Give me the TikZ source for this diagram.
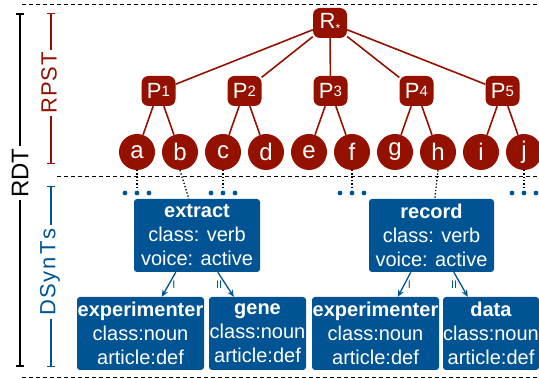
\documentclass[tikz,border=0pt]{standalone}
\usepackage{fontspec}
\setmainfont{Liberation Sans}
\usetikzlibrary{arrows.meta}
\definecolor{rpred}{HTML}{941100}
\definecolor{dsblue}{HTML}{005493}
\newcommand{\psub}[1]{\raisebox{2.5pt}{\fontsize{15}{15}\selectfont #1}}
\begin{document}
\begin{tikzpicture}[x=1pt,y=-1pt,
  pnode/.style={fill=rpred, text=white, rounded corners=7pt, minimum width=34pt, minimum height=30pt, inner sep=0pt, font=\fontsize{22}{22}\selectfont},
  leaf/.style={circle, fill=rpred, text=white, minimum size=36pt, inner sep=0pt, font=\fontsize{24}{24}\selectfont},
  tedge/.style={draw=rpred, line width=1.6pt},
  dbox/.style={fill=dsblue, text=white, rounded corners=3pt, minimum height=73pt, inner sep=0pt, align=center, font=\fontsize{20}{24}\selectfont},
  bdot/.style={circle, fill=dsblue, minimum size=4.8pt, inner sep=0pt},
  link/.style={line width=1.3pt, dash pattern=on 1.3pt off 2pt},
  sep/.style={line width=0.8pt, dash pattern=on 4pt off 3pt},
  arr/.style={draw=dsblue, line width=1.3pt, -{Stealth[length=7pt,width=6pt]}},
  rel/.style={text=dsblue, font=\fontsize{11}{11}\selectfont, inner sep=0pt},
  side/.style={rotate=90, inner sep=2.5pt}
]
\useasboundingbox (0,0) rectangle (539,379);

% separators
\coordinate (t0) at (22,4); \coordinate (t1) at (539,4);
\coordinate (m0) at (57,176); \coordinate (m1) at (539,176);
\coordinate (b0) at (22,377); \coordinate (b1) at (539,377);
\draw[sep] (t0) -- (t1);
\draw[sep] (m0) -- (m1);
\draw[sep] (b0) -- (b1);

% side bars
\node[side, font=\fontsize{24}{24}\selectfont] (rdt) at (20,173) {RDT};
\coordinate (rdttop) at (20,13); \coordinate (rdtbot) at (20,367);
\draw[line width=1.6pt, {Bar[width=8pt]}-] (rdttop) -- (rdt.east);
\draw[line width=1.6pt, -{Bar[width=8pt]}] (rdt.west) -- (rdtbot);

\node[side, text=rpred, font=\fontsize{22}{22}\selectfont] (rpst) at (49,83) {R\kern0.8pt P\kern0.8pt S\kern0.8pt T};
\coordinate (rpsttop) at (51,13); \coordinate (rpstbot) at (51,164);
\draw[rpred, line width=1.4pt, {Bar[width=8pt]}-] (rpsttop) -- (rpst.east -| rpsttop);
\draw[rpred, line width=1.4pt, -{Bar[width=8pt]}] (rpst.west -| rpsttop) -- (rpstbot);

\node[side, text=dsblue, font=\fontsize{22}{22}\selectfont] (dsy) at (50,272) {D\kern1.5pt S\kern1.5pt y\kern1.5pt n\kern3.5pt T\kern1.5pt s};
\coordinate (dsytop) at (51,186); \coordinate (dsybot) at (51,367);
\draw[dsblue, line width=1.4pt, {Bar[width=8pt]}-] (dsytop) -- (dsy.east -| dsytop);
\draw[dsblue, line width=1.4pt, -{Bar[width=8pt]}] (dsy.west -| dsytop) -- (dsybot);

% RPST tree
\node[pnode] (R) at (330,23) {R\raisebox{-3.5pt}{\fontsize{12}{12}\selectfont *}};
\node[pnode] (P1) at (158.5,91) {P\psub{1}};
\node[pnode] (P2) at (244.5,91) {P\psub{2}};
\node[pnode] (P3) at (330.5,91) {P\psub{3}};
\node[pnode] (P4) at (416.5,91) {P\psub{4}};
\node[pnode] (P5) at (502.5,91) {P\psub{5}};

\node[leaf] (a) at (137,152) {a};
\node[leaf] (b) at (180,152) {b};
\node[leaf] (c) at (223,152) {c};
\node[leaf] (d) at (266,152) {d};
\node[leaf] (e) at (309,152) {e};
\node[leaf] (f) at (352,152) {f};
\node[leaf] (g) at (395,152) {g};
\node[leaf] (h) at (438,152) {h};
\node[leaf] (i) at (481,152) {i};
\node[leaf] (j) at (524,152) {j};

\foreach \p in {P1,P2,P3,P4,P5} \draw[tedge] (R) -- (\p);
\draw[tedge] (P1) -- (a); \draw[tedge] (P1) -- (b);
\draw[tedge] (P2) -- (c); \draw[tedge] (P2) -- (d);
\draw[tedge] (P3) -- (e); \draw[tedge] (P3) -- (f);
\draw[tedge] (P4) -- (g); \draw[tedge] (P4) -- (h);
\draw[tedge] (P5) -- (i); \draw[tedge] (P5) -- (j);

% DSynT boxes
\node[dbox, minimum width=126pt] (extract) at (197,235.5) {\textbf{extract}\\class: verb\\voice: active};
\node[dbox, minimum width=125pt] (record) at (431.5,235.5) {\textbf{record}\\class: verb\\voice: active};
\node[dbox, minimum width=127pt] (exp1) at (140.5,333.5) {\textbf{experimenter}\\class:noun\\article:def};
\node[dbox, minimum width=97pt] (gene) at (257.5,333.5) {\textbf{gene}\\class:noun\\article:def};
\node[dbox, minimum width=127pt] (exp2) at (375.5,333.5) {\textbf{experimenter}\\class:noun\\article:def};
\node[dbox, minimum width=96pt] (data) at (491,333.5) {\textbf{data}\\class:noun\\article:def};

% ellipsis dots and dotted links
\foreach \n/\x in {a/137,c/223,f/352,j/524}{
  \node[bdot] (\n L) at ({\x-12},193) {};
  \node[bdot] (\n M) at (\x,193) {};
  \node[bdot] (\n R) at ({\x+12},193) {};
  \coordinate (\n E) at (\x,189);
  \draw[link] (\n.south) -- (\n E);
}
\draw[link] (b.south) -- ([xshift=55pt]extract.north west);
\draw[link] (h.south) -- ([xshift=66pt]record.north west);

% dependency arrows
\draw[arr] ([xshift=42pt]extract.south west) -- ([xshift=85pt]exp1.north west) node[rel, pos=0.5, right=3pt] {I};
\draw[arr] ([xshift=84pt]extract.south west) -- ([xshift=25pt]gene.north west) node[rel, pos=0.5, left=3pt] {II};
\draw[arr] ([xshift=42pt]record.south west) -- ([xshift=86pt]exp2.north west) node[rel, pos=0.5, right=3pt] {I};
\draw[arr] ([xshift=85pt]record.south west) -- ([xshift=25pt]data.north west) node[rel, pos=0.5, left=3pt] {II};
\end{tikzpicture}
\end{document}
